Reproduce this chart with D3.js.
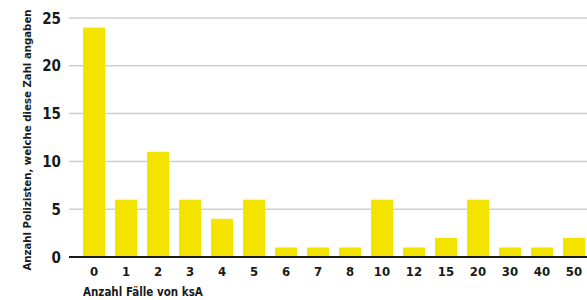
<!DOCTYPE html>
<html><head><meta charset="utf-8">
<script src="https://cdn.jsdelivr.net/npm/d3@7"></script>
<style>
html,body{margin:0;padding:0;background:#fff;}
svg text{font-family:"Liberation Sans Narrow","DejaVu Sans Condensed",sans-serif;font-weight:bold;fill:#1a1a1a;}
</style></head>
<body><svg id="c" width="587" height="300"></svg>
<script>
const categories = ["0","1","2","3","4","5","6","7","8","10","12","15","20","30","40","50"];
const values = [24,6,11,6,4,6,1,1,1,6,1,2,6,1,1,2];
const yTicks = [0,5,10,15,20,25];
const xTitle = "Anzahl Fälle von ksA";
const yTitle = "Anzahl Polizisten, welche diese Zahl angaben";

const svg = d3.select("#c");
const x = d3.scaleBand().domain(categories).range([69, 599]).paddingInner(0.3125).paddingOuter(0.4375);
const y = d3.scaleLinear().domain([0, 25]).range([257, 18]);

// gridlines
svg.append("g").selectAll("line").data(yTicks.filter(d => d > 0)).join("line")
  .attr("x1", 69).attr("x2", 587)
  .attr("y1", d => y(d)).attr("y2", d => y(d))
  .attr("stroke", "#cfcfcf").attr("stroke-width", 1.5);

// bars
svg.append("g").selectAll("rect").data(values).join("rect")
  .attr("x", (d, i) => x(categories[i]))
  .attr("width", x.bandwidth())
  .attr("y", d => y(d))
  .attr("height", d => y(0) - y(d))
  .attr("fill", "#f5e400");

// baseline
svg.append("line").attr("x1", 69).attr("x2", 587).attr("y1", y(0)).attr("y2", y(0))
  .attr("stroke", "#1a1a1a").attr("stroke-width", 2);

// y tick labels
svg.append("g").selectAll("text").data(yTicks).join("text")
  .attr("x", 61).attr("y", d => y(d) + 5.5)
  .attr("text-anchor", "end").attr("font-size", 15).text(d => d);

// x tick labels
svg.append("g").selectAll("text").data(categories).join("text")
  .attr("x", d => x(d) + x.bandwidth() / 2).attr("y", 276)
  .attr("text-anchor", "middle").attr("font-size", 13).text(d => d);

// axis titles
svg.append("text").attr("x", 83).attr("y", 296).attr("font-size", 11.5).text(xTitle);
svg.append("text").attr("transform", "translate(31,140) rotate(-90)")
  .attr("text-anchor", "middle").attr("font-size", 11.3).text(yTitle);
</script></body></html>
